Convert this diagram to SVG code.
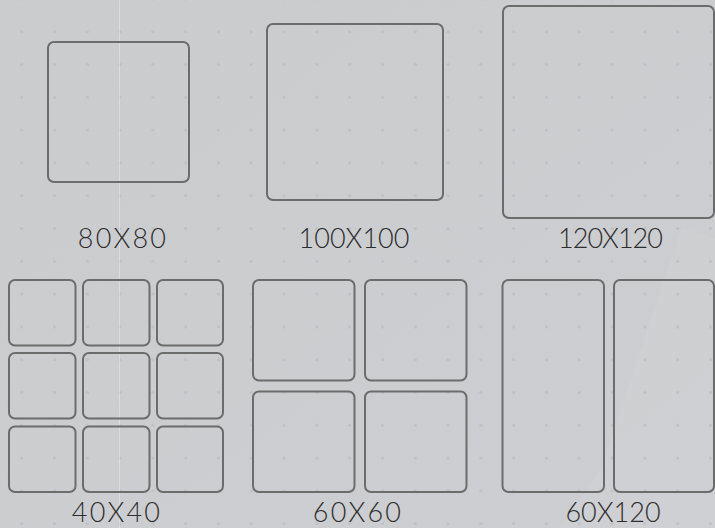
<svg xmlns="http://www.w3.org/2000/svg" width="715" height="528" viewBox="0 0 715 528">
  <defs>
    <pattern id="dots" x="5.3" y="15.3" width="32.8" height="32.8" patternUnits="userSpaceOnUse">
      <circle cx="16.4" cy="16.4" r="1.6" fill="#bcbdc1" opacity="0.8"/>
    </pattern>
    <linearGradient id="bg" x1="0" y1="0" x2="1" y2="1">
      <stop offset="0" stop-color="#cbccce"/>
      <stop offset="1" stop-color="#cdced1"/>
    </linearGradient>
  </defs>
  <style>
    .box { fill: none; stroke: #6c6c6c; stroke-width: 2; }
    .lbl { font-family: Lato, "Open Sans", "Liberation Sans", sans-serif; font-weight: 300; font-size: 27px; letter-spacing: 2.2px; fill: #2e2e2e; text-anchor: middle; }
    .tight { letter-spacing: 0px; }
    .tighter { letter-spacing: -1px; }
  </style>
  <rect x="0" y="0" width="715" height="528" fill="url(#bg)"/>
  <polygon points="682,228 715,238 715,528 560,528 600,470" fill="#ffffff" opacity="0.06"/>
  <rect x="0" y="0" width="715" height="528" fill="url(#dots)"/>
  <line x1="119.5" y1="0" x2="119.5" y2="528" stroke="#e6e7e9" stroke-width="1" opacity="0.6"/>

  <g id="n80">
    <rect class="box" x="48" y="42" width="141" height="140" rx="6"/>
    <text class="lbl" x="123" y="248">80X80</text>
  </g>
  <g id="n100">
    <rect class="box" x="267" y="24" width="176" height="176" rx="6"/>
    <text class="lbl tight" x="354" y="248">100X100</text>
  </g>
  <g id="n120">
    <rect class="box" x="503" y="6" width="211" height="212" rx="6"/>
    <text class="lbl tighter" x="610" y="248">120X120</text>
  </g>
  <g id="n40">
    <rect class="box" x="9" y="280" width="66.5" height="65.5" rx="6"/>
    <rect class="box" x="83" y="280" width="66.5" height="65.5" rx="6"/>
    <rect class="box" x="157" y="280" width="66" height="65.5" rx="6"/>
    <rect class="box" x="9" y="353" width="66.5" height="65.5" rx="6"/>
    <rect class="box" x="83" y="353" width="66.5" height="65.5" rx="6"/>
    <rect class="box" x="157" y="353" width="66" height="65.5" rx="6"/>
    <rect class="box" x="9" y="426.5" width="66.5" height="65.5" rx="6"/>
    <rect class="box" x="83" y="426.5" width="66.5" height="65.5" rx="6"/>
    <rect class="box" x="157" y="426.5" width="66" height="65.5" rx="6"/>
    <text class="lbl" x="117" y="521.5">40X40</text>
  </g>
  <g id="n60">
    <rect class="box" x="253" y="280" width="101.5" height="100.5" rx="6"/>
    <rect class="box" x="365" y="280" width="101.5" height="100.5" rx="6"/>
    <rect class="box" x="253" y="391.5" width="101.5" height="100.5" rx="6"/>
    <rect class="box" x="365" y="391.5" width="101.5" height="100.5" rx="6"/>
    <text class="lbl" x="358" y="521.5">60X60</text>
  </g>
  <g id="n60x120">
    <rect class="box" x="502.5" y="280" width="101.5" height="212" rx="6"/>
    <rect class="box" x="614" y="280" width="100" height="212" rx="6"/>
    <text class="lbl tight" x="613" y="521.5">60X120</text>
  </g>
  <g id="connectors"></g>
</svg>
